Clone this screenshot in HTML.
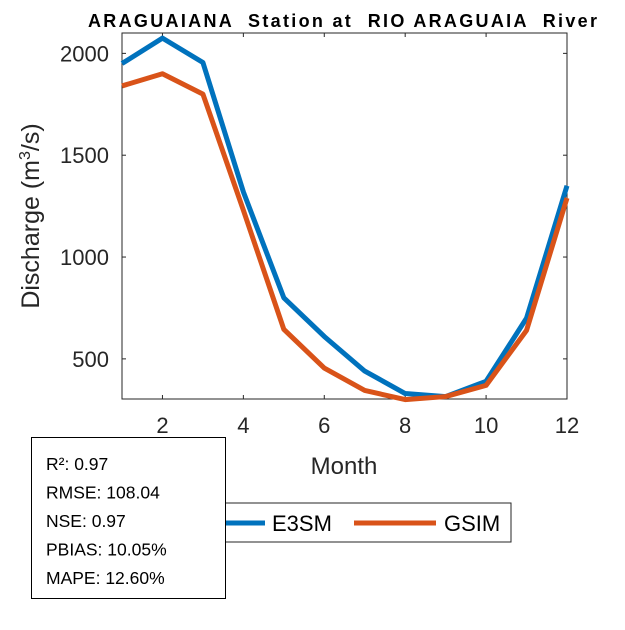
<!DOCTYPE html>
<html><head><meta charset="utf-8"><style>
body{margin:0;background:#fff;width:625px;height:625px;overflow:hidden;font-family:"Liberation Sans",Arial,sans-serif}
</style></head><body>
<svg id="c" width="625" height="625" xmlns="http://www.w3.org/2000/svg"></svg>
<script>
const months=[1,2,3,4,5,6,7,8,9,10,11,12];
const e3sm=[1950,2075,1955,1320,800,610,440,330,315,390,700,1350];
const gsim=[1840,1900,1800,1230,645,455,345,300,315,370,640,1290];
const xTicks=[2,4,6,8,10,12];
const yTicks=[500,1000,1500,2000];
const L=122,R=567,T=33,B=399,xMin=1,xMax=12,yMin=303,yMax=2100;
const sx=v=>L+(v-xMin)/(xMax-xMin)*(R-L);
const sy=v=>B-(v-yMin)/(yMax-yMin)*(B-T);
const svg=document.getElementById('c');const NS='http://www.w3.org/2000/svg';
function mk(t,a,txt){const e=document.createElementNS(NS,t);for(const k in a)e.setAttribute(k,a[k]);if(txt!==undefined)e.textContent=txt;svg.appendChild(e);return e;}
let e;
e=mk('rect',{x:L,y:T,width:R-L,height:B-T,fill:'#fff',stroke:'#262626','stroke-width':1});


xTicks.forEach(v=>{
 e=mk('line',{x1:sx(v),x2:sx(v),y1:B,y2:B-4,stroke:'#262626'});
 
 
 e=mk('line',{x1:sx(v),x2:sx(v),y1:T,y2:T+4,stroke:'#262626'});
 
 
 e=mk('text',{x:sx(v),y:B+34,'font-size':22,'text-anchor':'middle',fill:'#262626'},v);
 
 
});
yTicks.forEach(v=>{
 e=mk('line',{x1:L,x2:L+4,y1:sy(v),y2:sy(v),stroke:'#262626'});
 
 
 e=mk('line',{x1:R,x2:R-4,y1:sy(v),y2:sy(v),stroke:'#262626'});
 
 
 e=mk('text',{x:L-13,y:sy(v)+8,'font-size':22,'text-anchor':'end',fill:'#262626'},v);
 
 
});
function series(d,c,n){
 e=mk('polyline',{points:d.map((v,i)=>sx(months[i])+','+sy(v)).join(' '),fill:'none',stroke:c,'stroke-width':5,'stroke-linejoin':'round'});
 
 
}
series(e3sm,'#0072BD','e3sm-line');
series(gsim,'#D95319','gsim-line');
e=mk('text',{x:88,y:27,'font-size':18,'font-weight':'bold',fill:'#000',style:'white-space:pre',textLength:509,lengthAdjust:'spacing'},'ARAGUAIANA  Station at  RIO ARAGUAIA  River');


e=mk('text',{x:344,y:474,'font-size':24,'text-anchor':'middle',fill:'#262626'},'Month');


e=mk('text',{x:0,y:0,'font-size':25,'text-anchor':'middle',fill:'#262626',transform:'translate(39,216) rotate(-90)'});
e.innerHTML='Discharge (m<tspan dy="-9" font-size="16">3</tspan><tspan dy="9">/s)</tspan>';


e=mk('rect',{x:200,y:503,width:311,height:39,fill:'#fff',stroke:'#262626'});


e=mk('line',{x1:225,x2:265,y1:523,y2:523,stroke:'#0072BD','stroke-width':5});


e=mk('text',{x:272,y:531,'font-size':22,fill:'#000'},'E3SM');


e=mk('line',{x1:354,x2:436,y1:523,y2:523,stroke:'#D95319','stroke-width':5});


e=mk('text',{x:444,y:531,'font-size':22,fill:'#000'},'GSIM');


e=mk('rect',{x:31.5,y:437.5,width:194,height:161,fill:'#fff',stroke:'#000'});


const stats=['R²: 0.97','RMSE: 108.04','NSE: 0.97','PBIAS: 10.05%','MAPE: 12.60%'];
stats.forEach((s,i)=>{
 e=mk('text',{x:46,y:470+i*28.5,'font-size':17.5,fill:'#000'},s);
 
 
});
</script>
</body></html>
